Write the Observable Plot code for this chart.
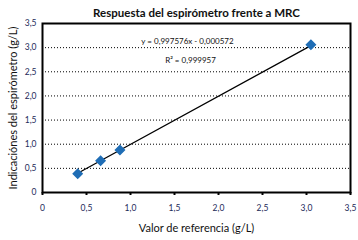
<!DOCTYPE html>
<html><head><meta charset="utf-8">
<script src="https://cdn.jsdelivr.net/npm/d3@7"></script>
<script src="https://cdn.jsdelivr.net/npm/@observablehq/plot@0.6"></script>
<style>body{margin:0;background:#fff}</style>
</head><body><div id="chart"></div>
<script>
const refValues = [0.40, 0.66, 0.88, 3.05];
const readings = [0.39, 0.66, 0.88, 3.06];
const tickValues = [0, 0.5, 1.0, 1.5, 2.0, 2.5, 3.0, 3.5];
const gridValues = [0.5, 1.0, 1.5, 2.0, 2.5, 3.0];
const slope = 0.997576, intercept = -0.000572;
const title = "Respuesta del espirómetro frente a MRC";
const xLabel = "Valor de referencia (g/L)";
const yLabel = "Indicaciónes del espirómetro (g/L)";
const eqText = ["y = 0,997576x - 0,000572", "R² = 0,999957"];

const data = refValues.map((x, i) => ({x, y: readings[i]}));
const xs = [d3.min(refValues), d3.max(refValues)];
const trend = xs.map(x => ({x, y: slope * x + intercept}));
const fmt = d => d === 0 ? "0" : d.toFixed(1).replace(".", ",");
const font = "Lato, 'Open Sans', sans-serif";
const tickColor = "#1c2a5a";

const chart = Plot.plot({
  width: 358, height: 240,
  marginLeft: 42, marginRight: 8, marginTop: 23, marginBottom: 48,
  style: {fontFamily: font, background: "#fff"},
  x: {domain: [0, 3.5]},
  y: {domain: [0, 3.5]},
  marks: [
    Plot.ruleY(gridValues, {stroke: "#000", strokeDasharray: "1,2", strokeWidth: 1}),
    Plot.axisX({ticks: tickValues, tickFormat: fmt, tickSize: 3, tickPadding: 9, fontSize: 8.5, fill: tickColor, stroke: "#000", strokeWidth: 2, label: null}),
    Plot.axisY({ticks: tickValues, tickFormat: fmt, tickSize: 0, tickPadding: 6, fontSize: 8.5, fill: tickColor, label: null}),
    Plot.line(trend, {x: "x", y: "y", stroke: "#000", strokeWidth: 1.2}),
    Plot.dot(data, {x: "x", y: "y", symbol: "diamond2", r: 4, fill: "#1f6db5", stroke: "#1f6db5"}),
    Plot.frame({stroke: "#000", strokeWidth: 2}),
    Plot.text([eqText[0]], {frameAnchor: "top", dx: -9, dy: 15, text: d => d, fontSize: 8, fill: "#111"}),
    Plot.text([eqText[1]], {frameAnchor: "top", dx: -6, dy: 34, text: d => d, fontSize: 8, fill: "#111"}),
    Plot.text([title], {frameAnchor: "top", dy: -15, text: d => d, fontSize: 11.5, fontWeight: "bold", fill: "#111"}),
    Plot.text([xLabel], {frameAnchor: "bottom", dy: 39, text: d => d, fontSize: 11, fill: "#111"}),
    Plot.text([yLabel], {frameAnchor: "left", dx: -29, rotate: -90, textAnchor: "middle", text: d => d, fontSize: 11, fill: "#111"})
  ]
});
document.getElementById("chart").appendChild(chart);
</script>
</body></html>
